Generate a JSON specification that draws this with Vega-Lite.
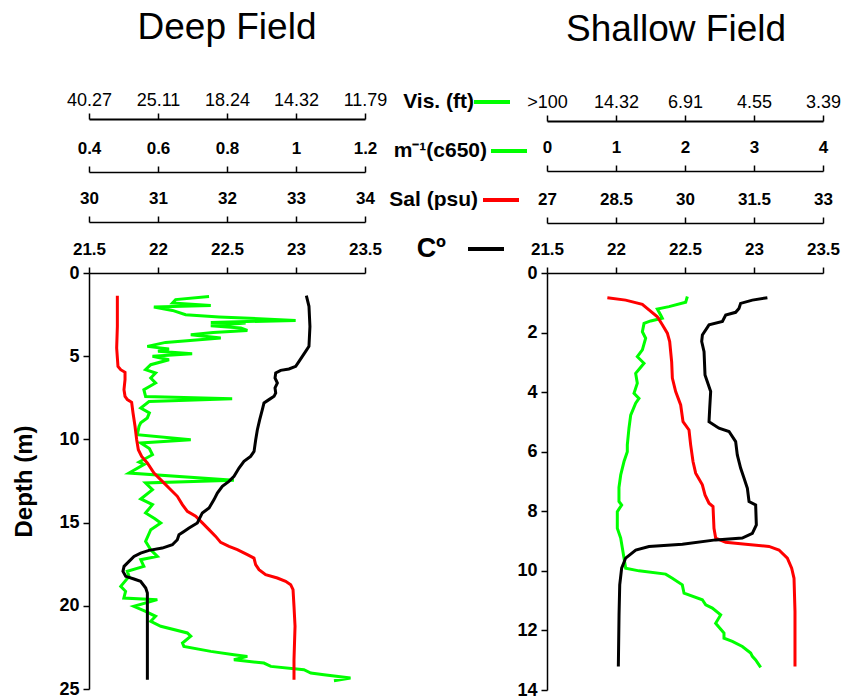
{
  "$schema": "https://vega.github.io/schema/vega-lite/v6.json",
  "background": "white",
  "autosize": {"type": "pad"},
  "padding": {"left": 12, "top": 9, "right": 5, "bottom": 0},
  "bounds": "flush",
  "spacing": 182,
  "config": {
    "view": {"stroke": null},
    "font": "Liberation Sans",
    "axis": {"grid": false, "domainColor": "black", "domainWidth": 1.5, "tickColor": "black", "tickWidth": 1.5, "tickSize": 6, "labelColor": "black", "labelFont": "Liberation Sans", "labelFontWeight": "bold", "labelFontSize": 17, "labelPadding": 9, "labelFlush": false, "labelOverlap": false, "titleColor": "black", "titleFont": "Liberation Sans"},
    "title": {"font": "Liberation Sans", "fontSize": 37, "fontWeight": "normal", "color": "black", "offset": 44}
  },
  "datasets": {
    "deep_T": [{"depth":1.36,"value":23.075},{"depth":2.0,"value":23.094},{"depth":3.21,"value":23.101},{"depth":4.41,"value":23.094},{"depth":4.71,"value":23.07},{"depth":5.01,"value":23.046},{"depth":5.31,"value":23.022},{"depth":5.61,"value":22.998},{"depth":5.77,"value":22.949},{"depth":5.85,"value":22.889},{"depth":6.01,"value":22.853},{"depth":6.31,"value":22.848},{"depth":6.61,"value":22.865},{"depth":6.91,"value":22.848},{"depth":7.21,"value":22.853},{"depth":7.41,"value":22.841},{"depth":7.61,"value":22.804},{"depth":7.81,"value":22.768},{"depth":8.21,"value":22.756},{"depth":8.81,"value":22.737},{"depth":9.42,"value":22.72},{"depth":10.02,"value":22.708},{"depth":10.72,"value":22.696},{"depth":11.02,"value":22.671},{"depth":11.32,"value":22.623},{"depth":11.72,"value":22.587},{"depth":12.22,"value":22.551},{"depth":12.52,"value":22.514},{"depth":12.82,"value":22.466},{"depth":13.22,"value":22.43},{"depth":13.62,"value":22.406},{"depth":14.12,"value":22.37},{"depth":14.42,"value":22.321},{"depth":15.02,"value":22.285},{"depth":15.32,"value":22.225},{"depth":15.53,"value":22.188},{"depth":15.73,"value":22.152},{"depth":16.03,"value":22.14},{"depth":16.33,"value":22.104},{"depth":16.53,"value":22.031},{"depth":16.67,"value":21.935},{"depth":16.83,"value":21.874},{"depth":17.03,"value":21.826},{"depth":17.33,"value":21.79},{"depth":17.63,"value":21.754},{"depth":17.93,"value":21.746},{"depth":18.23,"value":21.766},{"depth":18.39,"value":21.826},{"depth":18.53,"value":21.874},{"depth":18.93,"value":21.911},{"depth":19.23,"value":21.923},{"depth":20.23,"value":21.923},{"depth":22.24,"value":21.923},{"depth":24.44,"value":21.923}],
    "deep_S": [{"depth":1.36,"value":30.411},{"depth":3.21,"value":30.411},{"depth":4.51,"value":30.401},{"depth":5.61,"value":30.42},{"depth":5.81,"value":30.459},{"depth":5.97,"value":30.522},{"depth":6.41,"value":30.522},{"depth":7.01,"value":30.507},{"depth":7.41,"value":30.522},{"depth":7.61,"value":30.556},{"depth":7.77,"value":30.618},{"depth":8.41,"value":30.638},{"depth":9.21,"value":30.667},{"depth":10.02,"value":30.691},{"depth":10.62,"value":30.715},{"depth":11.02,"value":30.763},{"depth":11.42,"value":30.845},{"depth":12.02,"value":30.942},{"depth":12.52,"value":31.063},{"depth":12.92,"value":31.159},{"depth":13.42,"value":31.28},{"depth":13.92,"value":31.353},{"depth":14.32,"value":31.425},{"depth":14.62,"value":31.546},{"depth":15.02,"value":31.643},{"depth":15.42,"value":31.739},{"depth":15.83,"value":31.836},{"depth":16.19,"value":31.908},{"depth":16.43,"value":32.029},{"depth":16.63,"value":32.15},{"depth":16.93,"value":32.295},{"depth":17.13,"value":32.391},{"depth":17.53,"value":32.415},{"depth":17.83,"value":32.464},{"depth":18.13,"value":32.56},{"depth":18.33,"value":32.729},{"depth":18.53,"value":32.85},{"depth":18.73,"value":32.923},{"depth":19.03,"value":32.957},{"depth":20.03,"value":32.971},{"depth":21.23,"value":32.986},{"depth":23.24,"value":32.971},{"depth":24.44,"value":32.971}],
    "deep_c": [{"depth":1.41,"value":0.748},{"depth":1.6,"value":0.651},{"depth":1.8,"value":0.642},{"depth":1.95,"value":0.753},{"depth":2.04,"value":0.588},{"depth":2.25,"value":0.642},{"depth":2.51,"value":0.68},{"depth":2.64,"value":0.777},{"depth":2.85,"value":0.999},{"depth":2.97,"value":0.753},{"depth":3.0,"value":0.854},{"depth":3.17,"value":0.753},{"depth":3.3,"value":0.84},{"depth":3.45,"value":0.859},{"depth":3.58,"value":0.76},{"depth":3.71,"value":0.695},{"depth":3.91,"value":0.782},{"depth":4.17,"value":0.622},{"depth":4.41,"value":0.569},{"depth":4.57,"value":0.632},{"depth":4.7,"value":0.6},{"depth":4.85,"value":0.699},{"depth":5.01,"value":0.584},{"depth":5.21,"value":0.632},{"depth":5.51,"value":0.579},{"depth":5.81,"value":0.564},{"depth":6.01,"value":0.593},{"depth":6.31,"value":0.579},{"depth":6.61,"value":0.593},{"depth":7.01,"value":0.559},{"depth":7.42,"value":0.564},{"depth":7.55,"value":0.815},{"depth":7.72,"value":0.574},{"depth":8.11,"value":0.55},{"depth":8.41,"value":0.575},{"depth":8.71,"value":0.569},{"depth":9.0,"value":0.55},{"depth":9.22,"value":0.545},{"depth":9.72,"value":0.54},{"depth":10.02,"value":0.695},{"depth":10.22,"value":0.55},{"depth":10.55,"value":0.575},{"depth":10.92,"value":0.584},{"depth":11.36,"value":0.545},{"depth":11.5,"value":0.56},{"depth":12.02,"value":0.516},{"depth":12.46,"value":0.82},{"depth":12.62,"value":0.564},{"depth":13.02,"value":0.584},{"depth":13.58,"value":0.55},{"depth":13.92,"value":0.584},{"depth":14.42,"value":0.564},{"depth":14.75,"value":0.59},{"depth":15.02,"value":0.608},{"depth":15.43,"value":0.579},{"depth":16.13,"value":0.564},{"depth":16.63,"value":0.579},{"depth":17.03,"value":0.598},{"depth":17.23,"value":0.55},{"depth":17.63,"value":0.559},{"depth":17.93,"value":0.511},{"depth":18.23,"value":0.516},{"depth":18.83,"value":0.492},{"depth":19.13,"value":0.506},{"depth":19.53,"value":0.501},{"depth":19.63,"value":0.598},{"depth":20.03,"value":0.53},{"depth":20.33,"value":0.564},{"depth":20.63,"value":0.593},{"depth":20.93,"value":0.579},{"depth":21.23,"value":0.608},{"depth":21.63,"value":0.685},{"depth":21.83,"value":0.695},{"depth":22.24,"value":0.671},{"depth":22.44,"value":0.675},{"depth":22.74,"value":0.753},{"depth":22.94,"value":0.82},{"depth":23.04,"value":0.859},{"depth":23.24,"value":0.82},{"depth":23.44,"value":0.907},{"depth":23.64,"value":0.927},{"depth":23.84,"value":1.023},{"depth":24.04,"value":1.043},{"depth":24.14,"value":1.081},{"depth":24.34,"value":1.158},{"depth":24.5,"value":1.11}],
    "shallow_T": [{"depth":0.83,"value":23.097},{"depth":0.91,"value":22.988},{"depth":1.02,"value":22.903},{"depth":1.19,"value":22.891},{"depth":1.32,"value":22.867},{"depth":1.41,"value":22.795},{"depth":1.63,"value":22.771},{"depth":1.74,"value":22.674},{"depth":2.08,"value":22.626},{"depth":2.3,"value":22.621},{"depth":2.64,"value":22.638},{"depth":3.42,"value":22.645},{"depth":3.98,"value":22.686},{"depth":4.54,"value":22.679},{"depth":4.99,"value":22.674},{"depth":5.21,"value":22.746},{"depth":5.32,"value":22.819},{"depth":5.66,"value":22.867},{"depth":6.11,"value":22.879},{"depth":6.55,"value":22.903},{"depth":6.89,"value":22.928},{"depth":7.23,"value":22.952},{"depth":7.67,"value":22.964},{"depth":7.79,"value":23.012},{"depth":8.46,"value":23.017},{"depth":8.74,"value":22.988},{"depth":8.9,"value":22.915},{"depth":8.96,"value":22.722},{"depth":9.11,"value":22.481},{"depth":9.18,"value":22.239},{"depth":9.3,"value":22.143},{"depth":9.57,"value":22.07},{"depth":9.91,"value":22.041},{"depth":10.47,"value":22.027},{"depth":11.48,"value":22.022},{"depth":13.21,"value":22.017}],
    "shallow_S": [{"depth":0.83,"value":28.312},{"depth":0.91,"value":28.71},{"depth":1.05,"value":29.072},{"depth":1.24,"value":29.217},{"depth":1.47,"value":29.399},{"depth":1.74,"value":29.507},{"depth":2.02,"value":29.616},{"depth":2.3,"value":29.667},{"depth":2.98,"value":29.71},{"depth":3.53,"value":29.725},{"depth":3.98,"value":29.797},{"depth":4.43,"value":29.906},{"depth":4.99,"value":29.957},{"depth":5.27,"value":30.087},{"depth":5.77,"value":30.123},{"depth":6.33,"value":30.174},{"depth":6.72,"value":30.232},{"depth":7.11,"value":30.377},{"depth":7.45,"value":30.435},{"depth":7.73,"value":30.522},{"depth":7.84,"value":30.609},{"depth":8.57,"value":30.63},{"depth":8.9,"value":30.667},{"depth":9.04,"value":30.884},{"depth":9.11,"value":31.319},{"depth":9.18,"value":31.826},{"depth":9.3,"value":32.043},{"depth":9.57,"value":32.225},{"depth":9.91,"value":32.319},{"depth":10.25,"value":32.37},{"depth":11.36,"value":32.391},{"depth":13.21,"value":32.391}],
    "shallow_c": [{"depth":0.79,"value":2.034},{"depth":0.98,"value":2.01},{"depth":1.13,"value":1.768},{"depth":1.21,"value":1.599},{"depth":1.41,"value":1.647},{"depth":1.52,"value":1.671},{"depth":1.61,"value":1.502},{"depth":1.69,"value":1.406},{"depth":1.97,"value":1.382},{"depth":2.19,"value":1.43},{"depth":2.58,"value":1.382},{"depth":2.81,"value":1.309},{"depth":3.03,"value":1.406},{"depth":3.37,"value":1.285},{"depth":3.7,"value":1.309},{"depth":4.04,"value":1.261},{"depth":4.21,"value":1.333},{"depth":4.37,"value":1.285},{"depth":4.77,"value":1.213},{"depth":5.21,"value":1.188},{"depth":5.77,"value":1.164},{"depth":6.0,"value":1.164},{"depth":6.33,"value":1.116},{"depth":6.78,"value":1.068},{"depth":7.2,"value":1.043},{"depth":7.67,"value":1.043},{"depth":7.79,"value":1.082},{"depth":8.01,"value":1.019},{"depth":8.57,"value":1.019},{"depth":8.9,"value":1.068},{"depth":9.57,"value":1.116},{"depth":9.91,"value":1.14},{"depth":10.0,"value":1.333},{"depth":10.11,"value":1.72},{"depth":10.25,"value":1.816},{"depth":10.47,"value":1.961},{"depth":10.75,"value":1.986},{"depth":10.97,"value":2.251},{"depth":11.14,"value":2.3},{"depth":11.25,"value":2.396},{"depth":11.48,"value":2.517},{"depth":11.76,"value":2.444},{"depth":12.09,"value":2.565},{"depth":12.26,"value":2.565},{"depth":12.37,"value":2.686},{"depth":12.54,"value":2.831},{"depth":12.76,"value":2.952},{"depth":12.87,"value":2.976},{"depth":12.99,"value":3.024},{"depth":13.24,"value":3.097}]
  },
  "hconcat": [
    {
      "title": {"text": "Deep Field"},
      "width": 276,
      "height": 416,
      "encoding": {
        "y": {"field": "depth", "type": "quantitative", "scale": {"domain": [0, 25], "reverse": true, "nice": false, "zero": false},
              "axis": {"values": [0, 5, 10, 15, 20, 25], "title": "Depth (m)", "titleFontSize": 24, "titleFontWeight": "bold", "titlePadding": 22, "labelFontSize": 18, "labelPadding": 4}}
      },
      "layer": [
        {"data": {"name": "deep_c"}, "mark": {"type": "line", "strokeOpacity": 0},
         "encoding": {"x": {"field": "value", "type": "quantitative", "scale": {"domain": [0.4, 1.2], "nice": false, "zero": false},
           "axis": {"orient": "top", "offset": 154, "values": [0.4, 0.6, 0.8, 1, 1.2], "title": null, "labelFontWeight": "normal", "labelFontSize": 18, "domainWidth": 2, "labelPadding": 4,
             "labelExpr": "round(datum.value*10) == 4 ? '40.27' : round(datum.value*10) == 6 ? '25.11' : round(datum.value*10) == 8 ? '18.24' : round(datum.value*10) == 10 ? '14.32' : '11.79'"}},
           "order": {"field": "depth"}}},
        {"data": {"name": "deep_c"}, "mark": {"type": "line", "color": "#00ff00", "strokeWidth": 3},
         "encoding": {"x": {"field": "value", "type": "quantitative", "scale": {"domain": [0.4, 1.2], "nice": false, "zero": false},
           "axis": {"orient": "top", "offset": 101, "values": [0.4, 0.6, 0.8, 1, 1.2], "labelExpr": "'' + datum.value", "title": null}},
           "order": {"field": "depth"}}},
        {"data": {"name": "deep_S"}, "mark": {"type": "line", "color": "#ff0000", "strokeWidth": 3},
         "encoding": {"x": {"field": "value", "type": "quantitative", "scale": {"domain": [30, 34], "nice": false, "zero": false},
           "axis": {"orient": "top", "offset": 51, "values": [30, 31, 32, 33, 34], "labelExpr": "'' + datum.value", "title": null}},
           "order": {"field": "depth"}}},
        {"data": {"name": "deep_T"}, "mark": {"type": "line", "color": "#000000", "strokeWidth": 3},
         "encoding": {"x": {"field": "value", "type": "quantitative", "scale": {"domain": [21.5, 23.5], "nice": false, "zero": false},
           "axis": {"orient": "top", "offset": 0, "values": [21.5, 22, 22.5, 23, 23.5], "labelExpr": "'' + datum.value", "title": null}},
           "order": {"field": "depth"}}}
      ],
      "resolve": {"scale": {"x": "independent"}, "axis": {"x": "independent"}}
    },
    {
      "title": {"text": "Shallow Field", "dx": -9},
      "width": 276,
      "height": 417,
      "encoding": {
        "y": {"field": "depth", "type": "quantitative", "scale": {"domain": [0, 14], "reverse": true, "nice": false, "zero": false},
              "axis": {"values": [0, 2, 4, 6, 8, 10, 12, 14], "title": null, "labelFontSize": 18, "labelPadding": 4}}
      },
      "layer": [
        {"data": {"name": "shallow_c"}, "mark": {"type": "line", "strokeOpacity": 0},
         "encoding": {"x": {"field": "value", "type": "quantitative", "scale": {"domain": [0, 4], "nice": false, "zero": false},
           "axis": {"orient": "top", "offset": 152, "values": [0, 1, 2, 3, 4], "title": null, "labelFontWeight": "normal", "labelFontSize": 18, "domainWidth": 2, "labelPadding": 4,
             "labelExpr": "datum.value == 0 ? '>100' : datum.value == 1 ? '14.32' : datum.value == 2 ? '6.91' : datum.value == 3 ? '4.55' : '3.39'"}},
           "order": {"field": "depth"}}},
        {"data": {"name": "shallow_c"}, "mark": {"type": "line", "strokeWidth": 3},
         "encoding": {"x": {"field": "value", "type": "quantitative", "scale": {"domain": [0, 4], "nice": false, "zero": false},
           "axis": {"orient": "top", "offset": 102, "values": [0, 1, 2, 3, 4], "labelExpr": "'' + datum.value", "title": null}},
           "color": {"datum": "m⁻¹(c650)", "type": "nominal",
             "scale": {"domain": ["Vis. (ft)", "m⁻¹(c650)", "Sal (psu)", "Cº"], "range": ["#00ff00", "#00ff00", "#ff0000", "#000000"]},
             "legend": {"orient": "none", "legendX": 383, "legendY": -191, "title": null, "symbolType": "stroke", "symbolStrokeWidth": 4, "symbolSize": 1296, "symbolOpacity": 1,
               "symbolOffset": {"expr": "datum.value == 'm⁻¹(c650)' ? 17 : datum.value == 'Sal (psu)' ? 9 : datum.value == 'Cº' ? -6 : 0"},
               "labelFont": "Liberation Sans", "labelFontWeight": "bold", "labelFontSize": {"expr": "datum.value == 'Cº' ? 27 : 21"}, "labelColor": "black", "labelAlign": "right",
               "labelOffset": {"expr": "datum.value == 'm⁻¹(c650)' ? -42 : datum.value == 'Sal (psu)' ? -43 : datum.value == 'Cº' ? -60 : -38"}, "labelLimit": 300, "rowPadding": 19}},
           "order": {"field": "depth"}}},
        {"data": {"name": "shallow_S"}, "mark": {"type": "line", "strokeWidth": 3},
         "encoding": {"x": {"field": "value", "type": "quantitative", "scale": {"domain": [27, 33], "nice": false, "zero": false},
           "axis": {"orient": "top", "offset": 50, "values": [27, 28.5, 30, 31.5, 33], "labelExpr": "'' + datum.value", "title": null}},
           "color": {"datum": "Sal (psu)", "type": "nominal"},
           "order": {"field": "depth"}}},
        {"data": {"name": "shallow_T"}, "mark": {"type": "line", "strokeWidth": 3},
         "encoding": {"x": {"field": "value", "type": "quantitative", "scale": {"domain": [21.5, 23.5], "nice": false, "zero": false},
           "axis": {"orient": "top", "offset": 0, "values": [21.5, 22, 22.5, 23, 23.5], "labelExpr": "'' + datum.value", "title": null}},
           "color": {"datum": "Cº", "type": "nominal"},
           "order": {"field": "depth"}}}
      ],
      "resolve": {"scale": {"x": "independent"}, "axis": {"x": "independent"}}
    }
  ]
}
